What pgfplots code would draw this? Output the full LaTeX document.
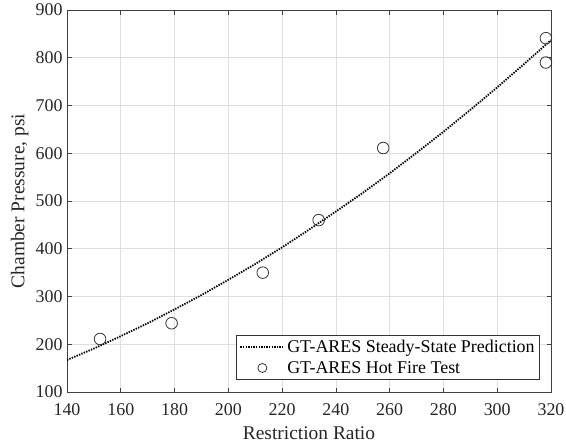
\documentclass[border=0pt]{standalone}
\usepackage{fontspec}
\setmainfont{Liberation Serif}
\usepackage{pgfplots}
\pgfplotsset{compat=1.18}
\pgfplotsset{
  linelegend/.style={legend image code/.code={\draw[##1] (0bp,0bp) -- (44bp,0bp);}},
  circlegend/.style={legend image code/.code={\draw[##1,mark=none] (22bp,0bp) circle (4.5bp);}},
}
\begin{document}
\begin{tikzpicture}
\begin{axis}[
  at={(0,0)}, anchor=south west,
  scale only axis, width=484bp, height=382bp,
  xmin=140, xmax=320, ymin=100, ymax=900,
  xtick={140,160,...,320}, ytick={100,200,...,900},
  /pgf/number format/assume math mode=true,
  tick label style={font=\fontsize{18}{20}\selectfont, text=black!85},
  xticklabel style={yshift=-8bp},
  yticklabel style={xshift=-1bp},
  label style={font=\fontsize{19.5}{22}\selectfont, text=black!85},
  xlabel={Restriction Ratio},
  ylabel={Chamber Pressure, psi},
  xlabel style={at={(axis description cs:0.5,0)}, anchor=north, yshift=-31bp},
  ylabel style={at={(axis description cs:0,0.5)}, anchor=south, yshift=35bp},
  grid=major, major grid style={black!13, line width=0.6bp},
  tick align=inside, major tick length=4.5bp,
  tick style={black!75, line width=0.6bp},
  axis line style={black!75, line width=0.7bp},
  legend cell align=left,
  legend style={at={(rel axis cs:1,0)}, anchor=south east, xshift=-11bp, yshift=12bp,
    font=\fontsize{18}{20}\selectfont, draw=black!80, line width=0.7bp, fill=white,
    inner xsep=3bp, inner ysep=3bp, row sep=3bp},
]
\addplot[black, line width=1.8bp, dash pattern=on 1.4bp off 1.2bp, linelegend] coordinates {
(140,167) (150,191) (160,217) (170,244) (180,273) (190,303) (200,335) (210,368)
(220,403) (230,440) (240,478) (250,517) (260,558) (270,601) (280,645) (290,691)
(300,738) (310,787) (320,837)};
\addlegendentry{GT-ARES Steady-State Prediction}
\addplot[only marks, mark=o, mark size=5.8bp, black!80, line width=0.8bp, circlegend] coordinates {
(152.3,211) (178.9,244) (212.8,350) (233.6,460) (257.6,611) (318.1,841) (318.1,790)};
\addlegendentry{GT-ARES Hot Fire Test}
\end{axis}
\pgfresetboundingbox
\useasboundingbox (-67bp,-54bp) rectangle (499bp,392bp);
\end{tikzpicture}
\end{document}
